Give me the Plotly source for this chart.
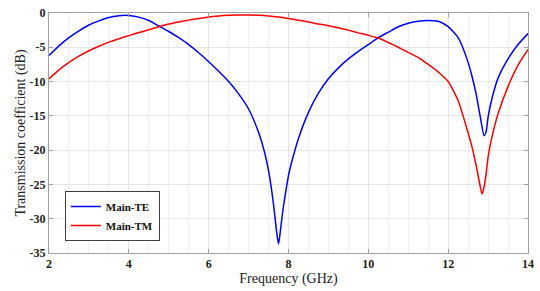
import plotly.graph_objects as go

freq_te = [2.0, 2.25, 2.5, 2.75, 3.0, 3.25, 3.5, 3.75, 3.9, 4.0, 4.25, 4.5, 4.75, 5.0, 5.25, 5.5, 5.75,
           6.0, 6.25, 6.5, 6.75, 7.0, 7.25, 7.4, 7.5, 7.6, 7.65, 7.7, 7.75, 7.8, 7.85, 7.9, 8.0, 8.1,
           8.25, 8.5, 8.75, 9.0, 9.25, 9.5, 9.75, 10.0, 10.25, 10.5, 10.75, 11.0, 11.25, 11.5, 11.75,
           12.0, 12.25, 12.5, 12.6, 12.7, 12.8, 12.9, 12.95, 13.0, 13.1, 13.25, 13.5, 13.75, 14.0]
te_db = [-6.2, -4.8, -3.6, -2.6, -1.75, -1.15, -0.67, -0.4, -0.33, -0.35, -0.6, -1.1, -1.9, -2.7, -3.6, -4.6, -5.8,
         -7.1, -8.5, -10.0, -11.8, -14.0, -17.4, -20.3, -23.0, -26.8, -29.2, -31.8, -33.7, -31.6, -29.2, -27.2, -23.7, -21.3,
         -18.3, -14.5, -11.7, -9.6, -8.0, -6.7, -5.6, -4.6, -3.6, -2.8, -2.0, -1.5, -1.2, -1.1, -1.2,
         -2.0, -3.6, -7.2, -9.3, -11.8, -15.0, -17.9, -17.3, -15.2, -12.4, -9.5, -6.7, -4.6, -3.0]

freq_tm = [2.0, 2.25, 2.5, 2.75, 3.0, 3.25, 3.5, 3.75, 4.0, 4.25, 4.5, 4.75, 5.0, 5.25, 5.5, 5.75,
           6.0, 6.25, 6.5, 6.75, 7.0, 7.25, 7.5, 7.75, 8.0, 8.25, 8.5, 8.75, 9.0, 9.25, 9.5, 9.75,
           10.0, 10.25, 10.5, 10.75, 11.0, 11.25, 11.5, 11.75, 12.0, 12.25, 12.5, 12.6, 12.7, 12.8,
           12.85, 12.9, 12.95, 13.0, 13.1, 13.25, 13.5, 13.75, 14.0]
tm_db = [-9.6, -8.3, -7.2, -6.3, -5.5, -4.85, -4.25, -3.75, -3.3, -2.85, -2.45, -2.0, -1.6, -1.3, -1.04, -0.8,
         -0.57, -0.42, -0.33, -0.28, -0.28, -0.33, -0.42, -0.58, -0.8, -1.05, -1.3, -1.6, -1.85, -2.15, -2.5, -2.9,
         -3.25, -3.65, -4.3, -5.0, -5.75, -6.5, -7.5, -8.6, -10.0, -12.8, -17.5, -19.6, -22.2, -25.2,
         -26.4, -25.4, -23.5, -21.0, -18.0, -14.7, -10.7, -7.6, -5.3]

x_ticks = [2, 4, 6, 8, 10, 12, 14]
x_labels = ["2", "4", "6", "8", "10", "12", "14"]
y_ticks = [0, -5, -10, -15, -20, -25, -30, -35]
y_labels = ["0", "-5", "-10", "-15", "-20", "-25", "-30", "-35"]

FONT = "Liberation Serif"

fig = go.Figure()
fig.add_trace(go.Scatter(x=freq_te, y=te_db, mode="lines", name="<b>Main-TE</b>",
                         line=dict(color="#0000ff", width=1.5, shape="spline", smoothing=0.6)))
fig.add_trace(go.Scatter(x=freq_tm, y=tm_db, mode="lines", name="<b>Main-TM</b>",
                         line=dict(color="#ff0000", width=1.5, shape="spline", smoothing=0.6)))

axis_common = dict(
    showline=True, linecolor="#a0a0a0", linewidth=1, mirror="ticks",
    ticks="inside", ticklen=4, tickcolor="#a0a0a0",
    showgrid=True, gridcolor="#e6e6e6", gridwidth=1, zeroline=False,
    tickfont=dict(family=FONT, size=12, color="#222222"),
    ticklabeloverflow="allow",
)

fig.update_xaxes(range=[2, 14], tickvals=x_ticks, ticktext=[f"<b>{t}</b>" for t in x_labels],
                 minor=dict(dtick=0.5, showgrid=True, gridcolor="#f0f0f0", ticks=""),
                 title=dict(text="Frequency (GHz)", font=dict(family=FONT, size=14, color="#222222"), standoff=0),
                 **axis_common)
fig.update_yaxes(range=[-35, 0], tickvals=y_ticks, ticktext=[f"<b>{t}</b>" for t in y_labels],
                 title=dict(text="Transmission coefficient (dB)", font=dict(family=FONT, size=14, color="#222222"), standoff=0),
                 **axis_common)

fig.update_layout(
    width=540, height=291,
    margin=dict(l=49, r=11, t=6, b=38),
    plot_bgcolor="white", paper_bgcolor="white",
    showlegend=True,
    legend=dict(x=0.033, y=0.05, xanchor="left", yanchor="bottom",
                bgcolor="white", bordercolor="#404040", borderwidth=1,
                font=dict(family=FONT, size=11, color="#111111"),
                tracegroupgap=0, itemwidth=30),
)

fig.write_html("out.html", config={"displayModeBar": False},
               post_script="document.body.style.margin='0';document.body.style.overflow='hidden';")
